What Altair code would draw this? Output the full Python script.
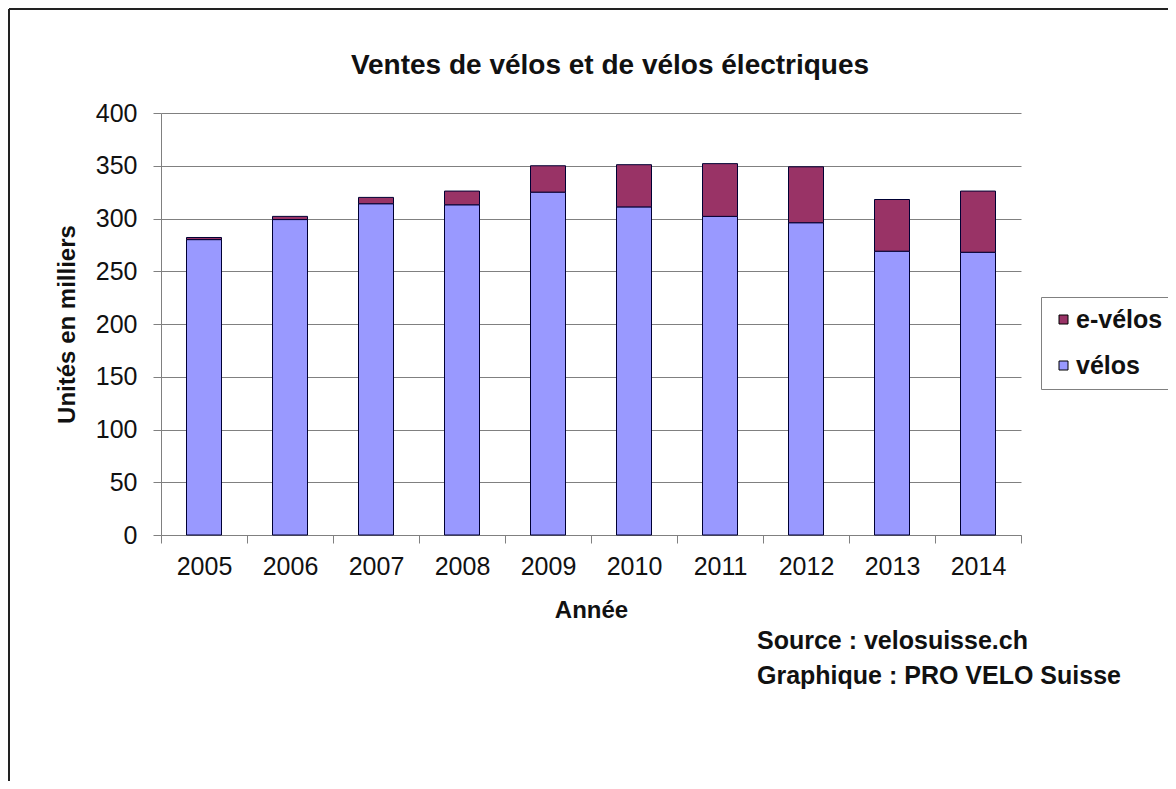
import altair as alt
import pandas as pd

years = ["2005", "2006", "2007", "2008", "2009", "2010", "2011", "2012", "2013", "2014"]
velos = [280, 299, 314, 313, 325, 311, 302, 296, 269, 268]
evelos = [2, 3, 6, 13, 25, 40, 50, 53, 49, 58]
series_names = ["e-vélos", "vélos"]
series_colors = ["#993366", "#9999FF"]
y_ticks = [0, 50, 100, 150, 200, 250, 300, 350, 400]
chart_title = "Ventes de vélos et de vélos électriques"
source_lines = ["Source : velosuisse.ch", "Graphique : PRO VELO Suisse"]

FONT = "Liberation Sans"

rows = []
for i, yr in enumerate(years):
    rows.append({"Année": yr, "serie": "vélos", "val": velos[i], "ord": 0})
    rows.append({"Année": yr, "serie": "e-vélos", "val": evelos[i], "ord": 1})
df = pd.DataFrame(rows)

W, H = 860, 422

bars = alt.Chart(df).mark_bar(size=35, stroke="#000033", strokeWidth=1).encode(
    x=alt.X("Année:O", sort=years,
            scale=alt.Scale(paddingInner=0, paddingOuter=0),
            axis=alt.Axis(title="Année", labelAngle=0, tickBand="extent",
                          labelFont=FONT, labelFontSize=25, labelColor="#111",
                          titleFont=FONT, titleFontSize=24, titleFontWeight="bold",
                          titleColor="#111", titlePadding=19,
                          tickSize=8, tickColor="#808080", domainColor="#808080",
                          labelPadding=11, grid=False)),
    y=alt.Y("val:Q", stack="zero",
            scale=alt.Scale(domain=[0, 400], nice=False),
            axis=alt.Axis(values=y_ticks, title="Unités en milliers",
                          labelFont=FONT, labelFontSize=25, labelColor="#111",
                          titleFont=FONT, titleFontSize=24, titleFontWeight="bold",
                          titleColor="#111", titlePadding=16,
                          tickSize=8, tickColor="#808080", domainColor="#808080",
                          labelPadding=16, grid=True, gridColor="#808080",
                          gridWidth=1)),
    color=alt.Color("serie:N",
                    scale=alt.Scale(domain=series_names, range=series_colors),
                    legend=alt.Legend(title=None, orient="none", legendX=880, legendY=184,
                                      padding=10, strokeColor="#808080", fillColor="white",
                                      labelFont=FONT, labelFontSize=25, labelFontWeight="bold",
                                      labelColor="#111", symbolType="square", symbolSize=81,
                                      symbolStrokeColor="black", symbolStrokeWidth=1,
                                      rowPadding=20, labelOffset=0)),
    order=alt.Order("ord:Q", sort="ascending"),
)

title_df = pd.DataFrame({"t": [chart_title]})
title_layer = alt.Chart(title_df).mark_text(
    font=FONT, fontSize=28, fontWeight="bold", color="#111", align="center", baseline="middle"
).encode(text="t:N", x=alt.value(449), y=alt.value(-47))

src_df = pd.DataFrame({"t": source_lines, "yy": [528, 563]})
src_layer = alt.Chart(src_df).mark_text(
    font=FONT, fontSize=25, fontWeight="bold", color="#111", align="left", baseline="middle"
).encode(text="t:N", x=alt.value(596), y=alt.Y("yy:Q", scale=None))

frame_df = pd.DataFrame({"k": [0]})
frame_left = alt.Chart(frame_df).mark_rule(color="#222", strokeWidth=2).encode(
    x=alt.value(-152), y=alt.value(-104), y2=alt.value(668))
frame_top = alt.Chart(frame_df).mark_rule(color="#222", strokeWidth=2).encode(
    x=alt.value(-152), x2=alt.value(1007), y=alt.value(-104))

chart = alt.layer(bars, title_layer, src_layer, frame_left, frame_top).properties(
    width=W, height=H,
    autosize=alt.AutoSizeParams(type="none"),
    padding={"left": 153, "top": 105, "right": 147, "bottom": 246},
    background="white",
).configure_view(stroke=None)

chart.save("out.html", embed_options={"renderer": "svg", "actions": False})
